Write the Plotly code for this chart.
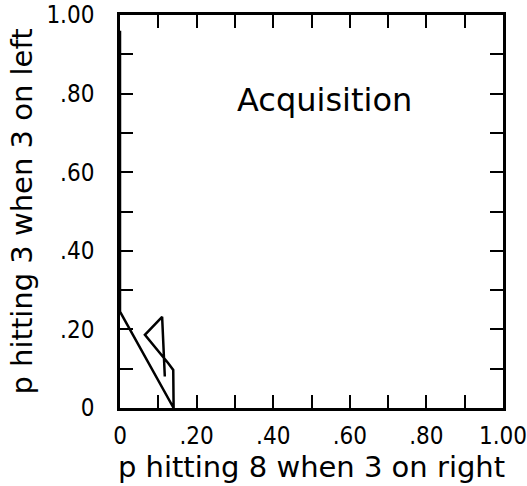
import plotly.graph_objects as go

# trajectory (p hitting 8 when 3 on right, p hitting 3 when 3 on left)
x_vals = [0.0, 0.0, 0.14, 0.139, 0.126, 0.065, 0.110, 0.117]
y_vals = [0.96, 0.245, 0.0, 0.097, 0.114, 0.186, 0.232, 0.080]

tick_vals = [0.0, 0.1, 0.2, 0.3, 0.4, 0.5, 0.6, 0.7, 0.8, 0.9, 1.0]
tick_text = ["0", "", ".20", "", ".40", "", ".60", "", ".80", "", "1.00"]

title_text = "Acquisition"
x_title = "p hitting 8 when 3 on right"
y_title = "p hitting 3 when 3 on left"

font_family = "DejaVu Sans"
tick_family = "Liberation Sans Narrow, DejaVu Sans Condensed, Arial Narrow, sans-serif"

fig = go.Figure()
fig.add_trace(go.Scatter(x=x_vals, y=y_vals, mode="lines",
                         line=dict(color="black", width=2.5),
                         showlegend=False, hoverinfo="skip"))

axis_common = dict(
    range=[0, 1], tickvals=tick_vals, ticktext=tick_text,
    ticks="inside", ticklen=13, tickwidth=1.5, tickcolor="black",
    showline=True, linecolor="black", linewidth=2.5, mirror="allticks",
    showgrid=False, zeroline=False, automargin=False,
    ticklabeloverflow="allow",
    tickfont=dict(family=tick_family, size=24, color="black"),
)

fig.update_layout(
    width=527, height=486,
    margin=dict(l=120, r=24, t=15, b=78),
    paper_bgcolor="white", plot_bgcolor="white",
    xaxis=dict(**axis_common, ticklabelstandoff=4,
               title=dict(text=x_title, standoff=4,
                          font=dict(family=font_family, size=29, color="black"))),
    yaxis=dict(**axis_common, ticklabelstandoff=18,
               title=dict(text=y_title, standoff=6,
                          font=dict(family=font_family, size=29, color="black"))),
    annotations=[dict(text=title_text, x=0.533, y=0.784, xref="x", yref="y",
                      showarrow=False,
                      font=dict(family=font_family, size=32, color="black"))],
)

fig.write_html("out.html", config={"displayModeBar": False},
               post_script="document.body.style.margin='0';document.body.style.padding='0';")
